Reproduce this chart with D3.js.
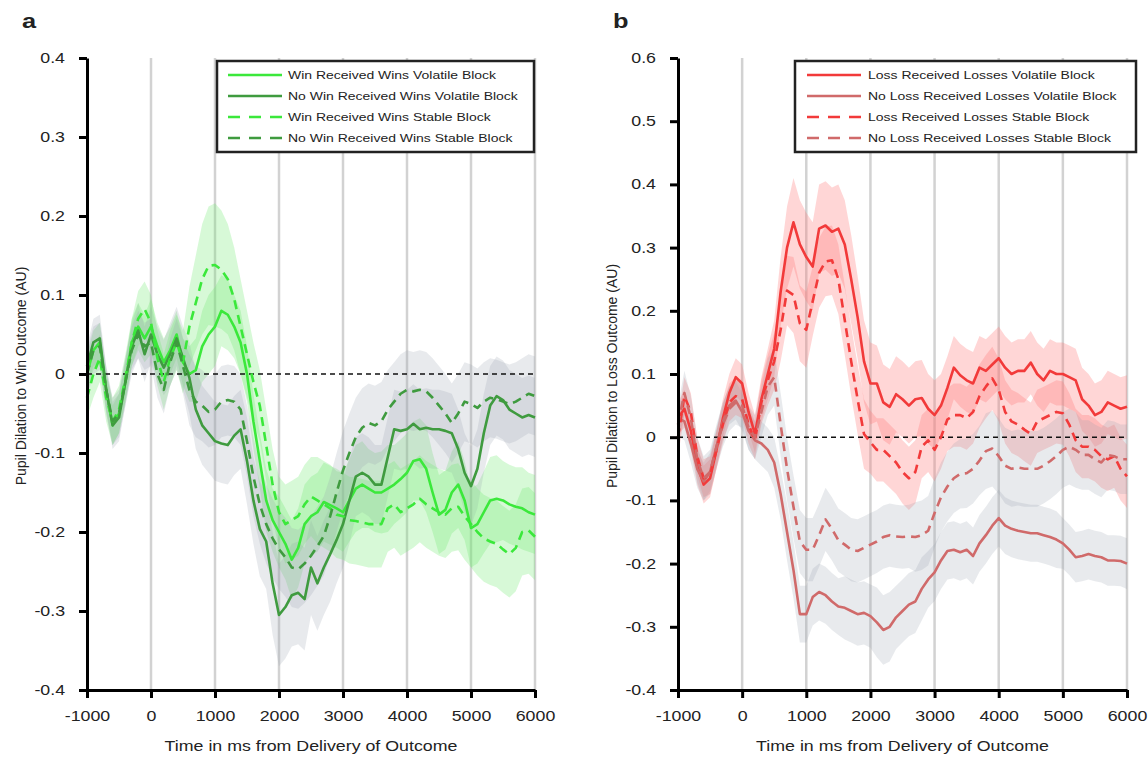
<!DOCTYPE html>
<html>
<head>
<meta charset="utf-8">
<script src="https://cdn.jsdelivr.net/npm/d3@7"></script>
<style>
  body { margin: 0; background: #fff; }
  text { font-family: "Liberation Sans", Arial, sans-serif; fill: #222; }
</style>
</head>
<body>
<div id="chart"></div>
<script>
// sample times, ms from outcome (every 100 ms)
var times = d3.range(-1000, 6001, 100);
var xTicks = [-1000, 0, 1000, 2000, 3000, 4000, 5000, 6000];
var yTicksA = [0.4, 0.3, 0.2, 0.1, 0, -0.1, -0.2, -0.3, -0.4];
var yTicksB = [0.6, 0.5, 0.4, 0.3, 0.2, 0.1, 0, -0.1, -0.2, -0.3, -0.4];

// panel a - wins
var winVol = [0.00,0.03,0.04,-0.02,-0.065,-0.05,-0.01,0.04,0.06,0.045,
  0.06,0.035,0.015,0.03,0.05,0.015,0.0,0.005,0.035,0.05,
  0.06,0.08,0.075,0.06,0.04,0.0,-0.06,-0.11,-0.16,-0.185,
  -0.2,-0.215,-0.235,-0.22,-0.19,-0.18,-0.175,-0.162,-0.166,-0.17,
  -0.175,-0.16,-0.145,-0.14,-0.145,-0.15,-0.15,-0.145,-0.14,-0.133,
  -0.125,-0.11,-0.108,-0.12,-0.15,-0.178,-0.172,-0.15,-0.14,-0.16,
  -0.195,-0.19,-0.175,-0.16,-0.158,-0.16,-0.165,-0.168,-0.17,-0.175,-0.178];
var noWinVol = [0.01,0.04,0.045,-0.02,-0.065,-0.055,-0.01,0.035,0.055,0.025,
  0.05,0.025,0.008,0.025,0.045,0.02,-0.005,-0.045,-0.065,-0.075,
  -0.085,-0.088,-0.09,-0.078,-0.07,-0.11,-0.16,-0.196,-0.212,-0.265,
  -0.305,-0.295,-0.28,-0.277,-0.285,-0.245,-0.265,-0.245,-0.228,-0.21,
  -0.19,-0.16,-0.13,-0.125,-0.13,-0.14,-0.14,-0.105,-0.07,-0.072,
  -0.07,-0.063,-0.07,-0.068,-0.07,-0.07,-0.072,-0.075,-0.095,-0.125,
  -0.142,-0.12,-0.075,-0.04,-0.028,-0.033,-0.045,-0.05,-0.055,-0.052,-0.055];
var winStab = [-0.03,0.0,0.02,-0.03,-0.06,-0.045,-0.005,0.04,0.07,0.082,
  0.065,0.02,-0.01,0.02,0.04,0.015,0.06,0.09,0.12,0.137,
  0.138,0.132,0.12,0.095,0.06,0.025,-0.01,-0.04,-0.09,-0.14,
  -0.175,-0.19,-0.185,-0.18,-0.165,-0.155,-0.16,-0.165,-0.17,-0.178,
  -0.18,-0.185,-0.186,-0.188,-0.19,-0.19,-0.19,-0.17,-0.165,-0.175,
  -0.17,-0.165,-0.158,-0.165,-0.17,-0.175,-0.178,-0.17,-0.168,-0.18,
  -0.19,-0.2,-0.208,-0.212,-0.215,-0.222,-0.228,-0.22,-0.2,-0.198,-0.206];
var noWinStab = [0.0,0.03,0.035,-0.02,-0.06,-0.05,-0.01,0.03,0.05,0.035,
  0.04,0.0,-0.02,0.015,0.04,0.01,-0.02,-0.035,-0.04,-0.048,
  -0.045,-0.035,-0.033,-0.035,-0.045,-0.085,-0.13,-0.165,-0.19,-0.208,
  -0.222,-0.232,-0.245,-0.247,-0.24,-0.23,-0.218,-0.205,-0.18,-0.15,
  -0.122,-0.1,-0.08,-0.068,-0.062,-0.065,-0.06,-0.045,-0.035,-0.025,
  -0.02,-0.022,-0.02,-0.022,-0.03,-0.04,-0.05,-0.062,-0.05,-0.035,
  -0.038,-0.043,-0.035,-0.03,-0.032,-0.035,-0.038,-0.035,-0.03,-0.025,-0.028];

// half-width of shaded error band, panel a
var winVolErr = [0.025,0.025,0.025,0.025,0.025,0.025,0.025,0.03,0.03,0.03,
  0.035,0.03,0.03,0.03,0.03,0.03,0.035,0.04,0.045,0.05,
  0.05,0.045,0.045,0.04,0.04,0.035,0.035,0.035,0.04,0.04,
  0.045,0.045,0.05,0.05,0.05,0.05,0.05,0.05,0.05,0.05,
  0.05,0.052,0.055,0.055,0.05,0.05,0.052,0.055,0.05,0.05,
  0.05,0.05,0.052,0.055,0.05,0.05,0.05,0.052,0.055,0.05,
  0.05,0.05,0.052,0.055,0.055,0.05,0.05,0.05,0.052,0.05,0.05];
var noWinVolErr = [0.025,0.03,0.03,0.03,0.03,0.03,0.03,0.03,0.035,0.035,
  0.035,0.035,0.035,0.04,0.04,0.04,0.045,0.05,0.05,0.05,
  0.05,0.05,0.05,0.05,0.05,0.055,0.055,0.06,0.06,0.065,
  0.065,0.065,0.065,0.065,0.065,0.06,0.06,0.06,0.06,0.055,
  0.055,0.055,0.05,0.05,0.05,0.05,0.05,0.05,0.05,0.05,
  0.05,0.05,0.05,0.05,0.05,0.05,0.05,0.05,0.05,0.05,
  0.05,0.05,0.05,0.05,0.05,0.05,0.05,0.05,0.05,0.05,0.05];
var winStabErr = [0.025,0.03,0.03,0.03,0.03,0.03,0.03,0.03,0.035,0.035,
  0.035,0.035,0.035,0.035,0.035,0.04,0.05,0.06,0.07,0.075,
  0.078,0.075,0.07,0.065,0.06,0.055,0.05,0.045,0.045,0.045,
  0.045,0.05,0.05,0.05,0.05,0.05,0.055,0.055,0.055,0.055,
  0.055,0.055,0.055,0.055,0.055,0.055,0.055,0.055,0.055,0.055,
  0.055,0.055,0.055,0.055,0.055,0.055,0.055,0.055,0.055,0.055,
  0.055,0.055,0.055,0.055,0.055,0.055,0.055,0.055,0.055,0.055,0.055];
var noWinStabErr = [0.03,0.03,0.03,0.03,0.03,0.03,0.03,0.03,0.03,0.03,
  0.03,0.03,0.03,0.03,0.03,0.035,0.045,0.045,0.045,0.045,
  0.045,0.045,0.045,0.045,0.045,0.045,0.05,0.05,0.05,0.05,
  0.05,0.05,0.05,0.05,0.05,0.05,0.05,0.05,0.05,0.05,
  0.05,0.05,0.05,0.05,0.05,0.05,0.05,0.05,0.05,0.05,
  0.05,0.05,0.05,0.05,0.05,0.05,0.05,0.05,0.05,0.05,
  0.05,0.05,0.05,0.05,0.05,0.05,0.05,0.05,0.05,0.05,0.05];

// panel b - losses
var lossVol = [0.03,0.045,0.01,-0.045,-0.075,-0.065,-0.02,0.03,0.07,0.095,
  0.085,0.04,0.005,0.06,0.1,0.14,0.23,0.3,0.34,0.305,
  0.285,0.27,0.33,0.335,0.325,0.33,0.305,0.25,0.19,0.12,
  0.085,0.085,0.055,0.048,0.068,0.06,0.05,0.06,0.062,0.045,
  0.035,0.05,0.078,0.11,0.098,0.09,0.085,0.11,0.105,0.115,
  0.125,0.11,0.1,0.105,0.105,0.118,0.1,0.09,0.105,0.1,
  0.1,0.095,0.09,0.06,0.05,0.035,0.04,0.055,0.05,0.045,0.048];
var noLossVol = [0.03,0.025,-0.01,-0.05,-0.07,-0.055,-0.015,0.025,0.05,0.058,
  0.04,0.01,-0.005,-0.01,-0.02,-0.04,-0.09,-0.15,-0.21,-0.28,
  -0.28,-0.253,-0.245,-0.25,-0.26,-0.268,-0.27,-0.275,-0.28,-0.278,
  -0.283,-0.293,-0.305,-0.3,-0.285,-0.275,-0.265,-0.26,-0.24,-0.225,
  -0.214,-0.195,-0.18,-0.178,-0.182,-0.178,-0.188,-0.168,-0.155,-0.14,
  -0.128,-0.14,-0.145,-0.148,-0.15,-0.152,-0.152,-0.155,-0.158,-0.162,
  -0.168,-0.178,-0.19,-0.188,-0.185,-0.188,-0.19,-0.195,-0.195,-0.196,-0.2];
var lossStab = [0.0,0.065,0.04,-0.03,-0.065,-0.06,-0.02,0.02,0.055,0.065,
  0.06,0.02,-0.005,0.055,0.09,0.12,0.17,0.232,0.225,0.18,
  0.17,0.215,0.26,0.278,0.28,0.25,0.185,0.12,0.06,0.005,
  -0.008,-0.02,-0.02,-0.03,-0.04,-0.055,-0.065,-0.055,-0.015,-0.005,
  -0.02,0.0,0.028,0.035,0.035,0.03,0.04,0.065,0.08,0.093,
  0.075,0.04,0.025,0.02,0.012,0.005,0.025,0.03,0.035,0.04,
  0.038,0.02,-0.005,-0.015,-0.015,-0.02,-0.03,-0.035,-0.03,-0.05,-0.062];
var noLossStab = [0.02,0.07,0.03,-0.035,-0.065,-0.055,-0.015,0.02,0.045,0.055,
  0.05,0.015,0.0,0.04,0.08,0.095,0.02,-0.05,-0.11,-0.165,
  -0.178,-0.178,-0.155,-0.13,-0.145,-0.163,-0.17,-0.178,-0.18,-0.175,
  -0.17,-0.165,-0.158,-0.155,-0.157,-0.158,-0.157,-0.158,-0.155,-0.148,
  -0.12,-0.095,-0.078,-0.065,-0.058,-0.057,-0.05,-0.037,-0.022,-0.018,
  -0.03,-0.045,-0.05,-0.048,-0.05,-0.05,-0.05,-0.045,-0.038,-0.03,
  -0.02,-0.015,-0.02,-0.028,-0.028,-0.035,-0.04,-0.028,-0.03,-0.035,-0.035];

// half-width of shaded error band, panel b
var lossVolErr = [0.025,0.03,0.03,0.03,0.03,0.03,0.03,0.03,0.03,0.03,
  0.03,0.03,0.03,0.035,0.04,0.045,0.055,0.065,0.07,0.07,
  0.07,0.07,0.07,0.07,0.07,0.07,0.07,0.07,0.065,0.065,
  0.065,0.06,0.06,0.06,0.06,0.06,0.06,0.06,0.06,0.055,
  0.055,0.05,0.05,0.05,0.05,0.05,0.05,0.05,0.05,0.05,
  0.05,0.05,0.05,0.05,0.05,0.05,0.05,0.05,0.05,0.05,
  0.05,0.05,0.05,0.05,0.05,0.05,0.05,0.05,0.05,0.05,0.05];
var noLossVolErr = [0.03,0.03,0.03,0.03,0.03,0.03,0.03,0.03,0.03,0.03,
  0.03,0.03,0.03,0.035,0.035,0.04,0.04,0.045,0.045,0.045,
  0.045,0.045,0.045,0.045,0.045,0.045,0.05,0.05,0.05,0.05,
  0.05,0.055,0.055,0.055,0.05,0.05,0.05,0.05,0.05,0.045,
  0.045,0.045,0.045,0.045,0.045,0.045,0.045,0.045,0.045,0.045,
  0.045,0.045,0.045,0.045,0.045,0.045,0.045,0.045,0.045,0.045,
  0.04,0.04,0.04,0.04,0.04,0.04,0.04,0.04,0.04,0.04,0.04];
var lossStabErr = [0.03,0.03,0.03,0.03,0.03,0.03,0.03,0.03,0.03,0.03,
  0.03,0.03,0.03,0.035,0.04,0.045,0.05,0.055,0.06,0.06,
  0.06,0.055,0.055,0.055,0.055,0.055,0.055,0.055,0.055,0.055,
  0.05,0.05,0.05,0.05,0.05,0.05,0.05,0.05,0.05,0.05,
  0.05,0.05,0.05,0.05,0.05,0.05,0.05,0.05,0.05,0.05,
  0.05,0.05,0.05,0.05,0.05,0.05,0.05,0.05,0.05,0.05,
  0.05,0.05,0.05,0.05,0.05,0.05,0.05,0.05,0.05,0.05,0.05];
var noLossStabErr = [0.03,0.035,0.035,0.035,0.035,0.035,0.035,0.035,0.035,0.035,
  0.035,0.035,0.035,0.04,0.045,0.045,0.05,0.05,0.05,0.05,
  0.05,0.05,0.05,0.05,0.05,0.05,0.05,0.05,0.05,0.05,
  0.05,0.05,0.05,0.05,0.05,0.05,0.05,0.055,0.055,0.055,
  0.055,0.055,0.055,0.055,0.055,0.055,0.055,0.055,0.06,0.06,
  0.06,0.06,0.06,0.06,0.06,0.06,0.06,0.06,0.06,0.06,
  0.06,0.06,0.06,0.055,0.055,0.055,0.055,0.055,0.055,0.055,0.055];

var width = 1148, height = 758;
var STRETCH = 1.27;   // the source figure is a bit wider than tall

var svg = d3.select("#chart").append("svg")
    .attr("width", width)
    .attr("height", height);

var GREEN = "#3be83b", DKGREEN = "#3f9b3f", RED = "#f23a3a", DKRED = "#d06a6a";
var GREENBAND = "rgba(110,235,110,0.28)", REDBAND = "rgba(255,120,120,0.3)", GREYBAND = "rgba(150,160,172,0.22)";

drawPanel({
    left: 87, top: 58, w: 448, h: 632,
    letter: "a", yDomain: [-0.4, 0.4], yTicks: yTicksA,
    ylabel: "Pupil Dilation to Win Outcome (AU)",
    legend: {x: 217, y: 61, w: 317, h: 91, lineX: 228, textX: 288},
    series: [
        {name: "Win Received Wins Volatile Block", v: winVol, err: winVolErr, color: GREEN, band: GREENBAND, dash: null},
        {name: "No Win Received Wins Volatile Block", v: noWinVol, err: noWinVolErr, color: DKGREEN, band: GREYBAND, dash: null},
        {name: "Win Received Wins Stable Block", v: winStab, err: winStabErr, color: GREEN, band: GREENBAND, dash: "9,6"},
        {name: "No Win Received Wins Stable Block", v: noWinStab, err: noWinStabErr, color: DKGREEN, band: GREYBAND, dash: "9,6"}
    ]
});

drawPanel({
    left: 678, top: 58, w: 449, h: 632,
    letter: "b", yDomain: [-0.4, 0.6], yTicks: yTicksB,
    ylabel: "Pupil Dilation to Loss Outcome (AU)",
    legend: {x: 795, y: 61, w: 341, h: 91, lineX: 807, textX: 868},
    series: [
        {name: "Loss Received Losses Volatile Block", v: lossVol, err: lossVolErr, color: RED, band: REDBAND, dash: null},
        {name: "No Loss Received Losses Volatile Block", v: noLossVol, err: noLossVolErr, color: DKRED, band: GREYBAND, dash: null},
        {name: "Loss Received Losses Stable Block", v: lossStab, err: lossStabErr, color: RED, band: REDBAND, dash: "9,6"},
        {name: "No Loss Received Losses Stable Block", v: noLossStab, err: noLossStabErr, color: DKRED, band: GREYBAND, dash: "9,6"}
    ]
});

// widen horizontal text to match the stretched look of the original
svg.selectAll("text")
    .filter(function () { return !this.classList.contains("vlabel"); })
    .each(function () {
        var len = this.getComputedTextLength();
        this.setAttribute("textLength", len * STRETCH);
        this.setAttribute("lengthAdjust", "spacingAndGlyphs");
    });

function drawPanel(o) {
    var g = svg.append("g").attr("transform", "translate(" + o.left + "," + o.top + ")");

    var x = d3.scaleLinear().domain([-1000, 6000]).range([0, o.w]);
    var y = d3.scaleLinear().domain(o.yDomain).range([o.h, 0]);

    // vertical grey lines each second
    g.selectAll(".vgrid")
        .data(xTicks.slice(1))
        .enter().append("line")
        .attr("x1", d => x(d)).attr("x2", d => x(d))
        .attr("y1", 0).attr("y2", o.h)
        .attr("stroke", "#d2d2d2")
        .attr("stroke-width", 2.5);

    // error bands
    o.series.forEach(function (s) {
        var area = d3.area()
            .x((d, i) => x(times[i]))
            .y0((d, i) => y(d - s.err[i]))
            .y1((d, i) => y(d + s.err[i]));
        g.append("path")
            .attr("d", area(s.v))
            .attr("fill", s.band)
            .attr("stroke", "none");
    });

    // zero line
    g.append("line")
        .attr("x1", 0).attr("x2", o.w)
        .attr("y1", y(0)).attr("y2", y(0))
        .attr("stroke", "#111")
        .attr("stroke-width", 1.6)
        .attr("stroke-dasharray", "5,4");

    // mean lines
    var line = d3.line().x((d, i) => x(times[i])).y(d => y(d));
    o.series.forEach(function (s) {
        g.append("path")
            .attr("d", line(s.v))
            .attr("fill", "none")
            .attr("stroke", s.color)
            .attr("stroke-width", 2.6)
            .attr("stroke-linejoin", "round")
            .attr("stroke-dasharray", s.dash);
    });

    // axes
    var fmt = d => d === 0 ? "0" : d3.format(".1f")(d).replace("\u2212", "-");
    var ya = g.append("g")
        .call(d3.axisLeft(y).tickValues(o.yTicks).tickFormat(fmt).tickSize(8).tickSizeOuter(0).tickPadding(14));
    var xa = g.append("g")
        .attr("transform", "translate(0," + o.h + ")")
        .call(d3.axisBottom(x).tickValues(xTicks).tickFormat(d => String(d)).tickSize(8).tickSizeOuter(0).tickPadding(13));
    [ya, xa].forEach(function (a) {
        a.select(".domain").attr("stroke", "#000").attr("stroke-width", 3);
        a.selectAll(".tick line").attr("stroke", "#000").attr("stroke-width", 3);
        a.selectAll(".tick text").attr("font-size", "14px").attr("fill", "#222")
            .style("font-family", "'Liberation Sans', Arial, sans-serif");
    });

    // titles
    g.append("text")
        .attr("x", o.w / 2).attr("y", o.h + 61)
        .attr("text-anchor", "middle")
        .attr("font-size", "14px")
        .text("Time in ms from Delivery of Outcome");
    g.append("text")
        .attr("class", "vlabel")
        .attr("transform", "translate(" + (-61) + "," + (o.h / 2 + 2) + ") rotate(-90)")
        .attr("text-anchor", "middle")
        .attr("font-size", "14px")
        .text(o.ylabel);
    g.append("text")
        .attr("x", -65).attr("y", -30)
        .attr("font-size", "20px")
        .attr("font-weight", "bold")
        .text(o.letter);

    // legend
    var L = o.legend;
    svg.append("rect")
        .attr("x", L.x).attr("y", L.y)
        .attr("width", L.w).attr("height", L.h)
        .attr("fill", "#fff")
        .attr("stroke", "#222")
        .attr("stroke-width", 2.5);
    var item = svg.selectAll(".leg-" + o.letter)
        .data(o.series)
        .enter().append("g")
        .attr("transform", (d, i) => "translate(0," + (L.y + 14 + i * 21) + ")");
    item.append("line")
        .attr("x1", L.lineX).attr("x2", L.lineX + 54)
        .attr("stroke", d => d.color)
        .attr("stroke-width", 2.6)
        .attr("stroke-dasharray", d => d.dash ? "12,9" : null);
    item.append("text")
        .attr("x", L.textX).attr("y", 4)
        .attr("font-size", "11px")
        .text(d => d.name);
}
</script>
</body>
</html>
